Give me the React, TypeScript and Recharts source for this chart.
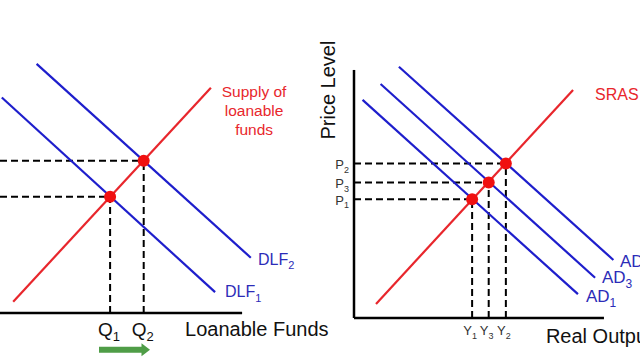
import { ComposedChart, Line, XAxis, YAxis, ReferenceLine, ReferenceDot } from 'recharts'

const FONT = '"Liberation Sans", Arial, sans-serif'
const RED = '#e8262c'
const DOT_RED = '#f01010'
const BLUE = '#1e1ecc'
const LABEL_BLUE = '#2c2cb8'
const GREEN = '#4f9d47'

// left panel: market for loanable funds
const supplyLF = [{ x: 0.44, y: 0.43 }, { x: 7.03, y: 8.64 }]
const dlf1 = [{ x: 0.06, y: 8.26 }, { x: 7.17, y: 0.8 }]
const dlf2 = [{ x: 1.22, y: 9.55 }, { x: 8.36, y: 2.12 }]
const lfEquilibria = [{ x: 3.67, y: 4.46 }, { x: 4.79, y: 5.84 }]
const qTicks = [3.67, 4.79]
const qSubs = ['1', '2']
const lfAxisEnd = 8.07

// right panel: AD / SRAS
const sras = [{ x: 0.77, y: 0.53 }, { x: 7.66, y: 8.6 }]
const ad1 = [{ x: 0.3, y: 8.23 }, { x: 7.83, y: 0.9 }]
const ad3 = [{ x: 0.93, y: 8.83 }, { x: 8.43, y: 1.52 }]
const ad2 = [{ x: 1.57, y: 9.48 }, { x: 9.07, y: 2.19 }]
const adEquilibria = [{ x: 4.13, y: 4.48 }, { x: 4.71, y: 5.11 }, { x: 5.31, y: 5.83 }]
const yTicks = [4.13, 4.71, 5.31]
const ySubs = ['1', '3', '2']
const pTicks = [4.48, 5.11, 5.83]
const pSubs = ['1', '3', '2']
const adAxisEndX = 8.74
const adAxisEndY = 9.36

function Sub({ x, y, base, sub, size, subSize, fill, anchor = 'start' }: any) {
  return (
    <text x={x} y={y} fill={fill} fontSize={size} fontFamily={FONT} textAnchor={anchor}>
      {base}
      <tspan fontSize={subSize} dy={size * 0.28}>{sub}</tspan>
    </text>
  )
}

// label drawn at a data point (ReferenceDot with no visible dot)
const at = (draw: (x: number, y: number) => any) => (props: any) => {
  const vb = props.viewBox || {}
  return draw(vb.x + (vb.width || 0) / 2, vb.y + (vb.height || 0) / 2)
}

function Note({ x, y, draw }: any) {
  return <ReferenceDot x={x} y={y} r={0} fill="none" stroke="none" ifOverflow="visible" label={at(draw)} />
}

function guides(points: { x: number; y: number }[]) {
  return points.flatMap((p, i) => [
    <ReferenceLine key={'h' + i} segment={[{ x: 0, y: p.y }, { x: p.x, y: p.y }]} stroke="#000" strokeWidth={2} strokeDasharray="7 4" />,
    <ReferenceLine key={'v' + i} segment={[{ x: p.x, y: 0 }, { x: p.x, y: p.y }]} stroke="#000" strokeWidth={2} strokeDasharray="7 4" />,
  ])
}

function dots(points: { x: number; y: number }[]) {
  return points.map((p, i) => (
    <ReferenceDot key={'d' + i} x={p.x} y={p.y} r={6} fill={DOT_RED} stroke="none" />
  ))
}

function curve(data: { x: number; y: number }[], color: string) {
  return <Line data={data} dataKey="y" type="linear" stroke={color} strokeWidth={2.2} dot={false} activeDot={false} isAnimationActive={false} />
}

function LoanableFunds() {
  return (
    <ComposedChart width={330} height={360} margin={{ top: 0, right: 0, bottom: 0, left: 0 }}>
      <XAxis
        dataKey="x"
        type="number"
        domain={[0, 11]}
        ticks={qTicks}
        interval={0}
        height={47}
        axisLine={false}
        tickLine={false}
        tickSize={0}
        tickMargin={0}
        tick={(p: any) => (
          <Sub x={p.x - 1} y={p.y + 23} base="Q" sub={qSubs[p.index]} size={19} subSize={13} fill="#111" anchor="middle" />
        )}
      />
      <YAxis type="number" dataKey="y" domain={[0, 12]} hide />
      {guides(lfEquilibria)}
      <ReferenceLine segment={[{ x: 0, y: 0 }, { x: lfAxisEnd, y: 0 }]} stroke="#000" strokeWidth={2.5} />
      {curve(supplyLF, RED)}
      {curve(dlf1, BLUE)}
      {curve(dlf2, BLUE)}
      {dots(lfEquilibria)}
      <Note x={8.47} y={8.28} draw={(x: number, y: number) => (
        <text x={x} y={y} fill={RED} fontSize={15.5} fontFamily={FONT} textAnchor="middle">
          <tspan x={x}>Supply of</tspan>
          <tspan x={x} dy={19}>loanable</tspan>
          <tspan x={x} dy={19}>funds</tspan>
        </text>
      )} />
      <Note x={8.6} y={1.84} draw={(x: number, y: number) => (
        <Sub x={x} y={y} base="DLF" sub="2" size={16} subSize={11} fill={LABEL_BLUE} />
      )} />
      <Note x={7.5} y={0.61} draw={(x: number, y: number) => (
        <Sub x={x} y={y} base="DLF" sub="1" size={16} subSize={11} fill={LABEL_BLUE} />
      )} />
      <Note x={6.17} y={-0.88} draw={(x: number, y: number) => (
        <text x={x} y={y} fill="#111" fontSize={20} fontFamily={FONT}>Loanable Funds</text>
      )} />
      <Note x={4.15} y={-1.41} draw={(x: number, y: number) => (
        <path
          d={`M${x - 25.5},${y - 3} L${x + 17},${y - 3} L${x + 17},${y - 6.5} L${x + 25.5},${y} L${x + 17},${y + 6.5} L${x + 17},${y + 3} L${x - 25.5},${y + 3} Z`}
          fill={GREEN}
        />
      )} />
    </ComposedChart>
  )
}

function AggregateDemand() {
  return (
    <ComposedChart width={340} height={360} margin={{ top: 0, right: 0, bottom: 0, left: 0 }}>
      <XAxis
        dataKey="x"
        type="number"
        domain={[0, 10]}
        ticks={yTicks}
        interval={0}
        height={42}
        axisLine={false}
        tickLine={false}
        tickSize={0}
        tickMargin={0}
        tick={(p: any) => (
          <Sub x={p.x - 2} y={p.y + 17} base="Y" sub={ySubs[p.index]} size={13} subSize={9} fill="#333" anchor="middle" />
        )}
      />
      <YAxis
        dataKey="y"
        type="number"
        domain={[0, 12]}
        ticks={pTicks}
        interval={0}
        width={54}
        axisLine={false}
        tickLine={false}
        tickSize={0}
        tickMargin={0}
        tick={(p: any) => (
          <Sub x={p.x - 5} y={p.y + 5.5} base="P" sub={pSubs[p.index]} size={13} subSize={9} fill="#333" anchor="end" />
        )}
      />
      {guides(adEquilibria)}
      <ReferenceLine segment={[{ x: 0, y: 0 }, { x: adAxisEndX, y: 0 }]} stroke="#000" strokeWidth={2.5} />
      <ReferenceLine segment={[{ x: 0, y: 0 }, { x: 0, y: adAxisEndY }]} stroke="#000" strokeWidth={2.5} />
      {curve(sras, RED)}
      {curve(ad1, BLUE)}
      {curve(ad3, BLUE)}
      {curve(ad2, BLUE)}
      {dots(adEquilibria)}
      <Note x={-0.66} y={8.6} draw={(x: number, y: number) => (
        <text x={x} y={y} fill="#111" fontSize={20} fontFamily={FONT} textAnchor="middle" transform={`rotate(-90, ${x}, ${y})`}>
          Price Level
        </text>
      )} />
      <Note x={8.43} y={8.23} draw={(x: number, y: number) => (
        <text x={x} y={y} fill={RED} fontSize={16} fontFamily={FONT}>SRAS</text>
      )} />
      <Note x={9.3} y={1.92} draw={(x: number, y: number) => (
        <Sub x={x} y={y} base="AD" sub="2" size={17} subSize={12} fill={LABEL_BLUE} />
      )} />
      <Note x={8.67} y={1.32} draw={(x: number, y: number) => (
        <Sub x={x} y={y} base="AD" sub="3" size={17} subSize={12} fill={LABEL_BLUE} />
      )} />
      <Note x={8.11} y={0.6} draw={(x: number, y: number) => (
        <Sub x={x} y={y} base="AD" sub="1" size={17} subSize={12} fill={LABEL_BLUE} />
      )} />
      <Note x={6.71} y={-0.94} draw={(x: number, y: number) => (
        <text x={x} y={y} fill="#111" fontSize={20} fontFamily={FONT}>Real Output</text>
      )} />
    </ComposedChart>
  )
}

export default function App() {
  return (
    <div style={{ position: 'absolute', left: 0, top: 0, width: 640, height: 360, background: '#fff', overflow: 'hidden' }}>
      <div style={{ position: 'absolute', left: 0, top: 0 }}>
        <LoanableFunds />
      </div>
      <div style={{ position: 'absolute', left: 300, top: 0 }}>
        <AggregateDemand />
      </div>
    </div>
  )
}
